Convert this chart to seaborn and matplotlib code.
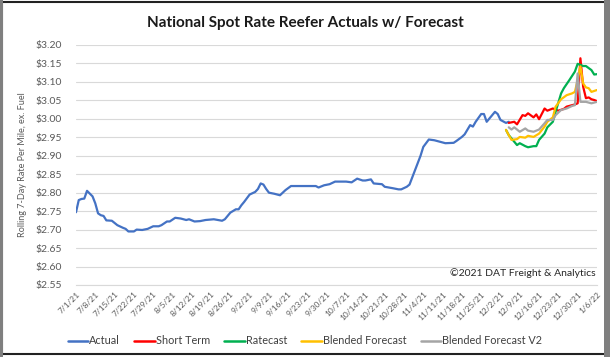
import matplotlib
matplotlib.use('Agg')
import matplotlib.pyplot as plt
import matplotlib.dates as mdates
from matplotlib.patches import Rectangle
from matplotlib.ticker import FuncFormatter
import numpy as np
import pandas as pd
import seaborn as sns

###
# data
actual_dates = ['2021-07-01', '2021-07-02', '2021-07-03', '2021-07-04', '2021-07-05', '2021-07-07',
                '2021-07-08', '2021-07-09', '2021-07-10', '2021-07-11', '2021-07-12', '2021-07-14',
                '2021-07-16', '2021-07-18', '2021-07-19', '2021-07-20', '2021-07-22', '2021-07-23',
                '2021-07-25', '2021-07-27', '2021-07-29', '2021-07-31', '2021-08-01', '2021-08-03',
                '2021-08-04', '2021-08-06', '2021-08-08', '2021-08-10', '2021-08-11', '2021-08-13',
                '2021-08-15', '2021-08-17', '2021-08-20', '2021-08-23', '2021-08-24', '2021-08-26',
                '2021-08-28', '2021-08-29', '2021-08-30', '2021-08-31', '2021-09-02', '2021-09-04',
                '2021-09-05', '2021-09-06', '2021-09-07', '2021-09-08', '2021-09-09', '2021-09-11',
                '2021-09-13', '2021-09-14', '2021-09-15', '2021-09-17', '2021-09-21', '2021-09-26',
                '2021-09-27', '2021-09-29', '2021-10-01', '2021-10-03', '2021-10-07', '2021-10-09',
                '2021-10-11', '2021-10-13', '2021-10-14', '2021-10-16', '2021-10-17', '2021-10-20',
                '2021-10-21', '2021-10-24', '2021-10-26', '2021-10-27', '2021-10-29', '2021-10-30',
                '2021-11-01', '2021-11-03', '2021-11-04', '2021-11-06', '2021-11-08', '2021-11-10',
                '2021-11-12', '2021-11-15', '2021-11-16', '2021-11-18', '2021-11-19', '2021-11-21',
                '2021-11-22', '2021-11-23', '2021-11-25', '2021-11-26', '2021-11-27', '2021-11-28',
                '2021-11-30', '2021-12-01', '2021-12-02', '2021-12-04', '2021-12-05']
actual_vals = [2.747, 2.780, 2.783, 2.784, 2.805, 2.790,
               2.771, 2.744, 2.739, 2.737, 2.725, 2.724,
               2.712, 2.705, 2.702, 2.695, 2.695, 2.700,
               2.699, 2.702, 2.709, 2.709, 2.712, 2.722,
               2.722, 2.732, 2.730, 2.726, 2.728, 2.722,
               2.723, 2.726, 2.728, 2.724, 2.728, 2.746,
               2.755, 2.755, 2.766, 2.775, 2.795, 2.802,
               2.810, 2.825, 2.822, 2.810, 2.800, 2.797,
               2.793, 2.800, 2.807, 2.818, 2.818, 2.818,
               2.814, 2.820, 2.823, 2.830, 2.830, 2.828,
               2.838, 2.833, 2.833, 2.836, 2.825, 2.823,
               2.816, 2.812, 2.809, 2.809, 2.816, 2.822,
               2.861, 2.900, 2.924, 2.944, 2.942, 2.938,
               2.934, 2.935, 2.940, 2.951, 2.958, 2.983,
               2.979, 2.992, 3.013, 3.013, 2.992, 3.001,
               3.019, 3.013, 2.997, 2.989, 2.992]

short_dates = ['2021-12-05', '2021-12-07', '2021-12-08', '2021-12-10', '2021-12-11', '2021-12-12',
               '2021-12-14', '2021-12-15', '2021-12-16', '2021-12-18', '2021-12-19', '2021-12-21',
               '2021-12-23', '2021-12-25', '2021-12-26', '2021-12-28', '2021-12-29', '2021-12-30',
               '2021-12-31', '2022-01-01', '2022-01-02', '2022-01-03', '2022-01-04', '2022-01-05',
               '2022-01-06']
short_vals = [2.989, 2.992, 2.985, 3.010, 3.008, 3.015,
              3.004, 3.012, 2.999, 3.028, 3.022, 3.028,
              3.022, 3.027, 3.033, 3.037, 3.039, 3.042,
              3.164, 3.087, 3.056, 3.058, 3.053, 3.051,
              3.048]

rate_dates = ['2021-12-04', '2021-12-05', '2021-12-07', '2021-12-08', '2021-12-09', '2021-12-11',
              '2021-12-12', '2021-12-14', '2021-12-15', '2021-12-16', '2021-12-18', '2021-12-19',
              '2021-12-21', '2021-12-22', '2021-12-24', '2021-12-25', '2021-12-27', '2021-12-29',
              '2021-12-30', '2022-01-01', '2022-01-02', '2022-01-04', '2022-01-05', '2022-01-06']
rate_vals = [2.970, 2.956, 2.938, 2.929, 2.934, 2.926,
             2.923, 2.926, 2.926, 2.943, 2.960, 2.977,
             2.992, 3.019, 3.069, 3.083, 3.105, 3.128,
             3.149, 3.143, 3.143, 3.132, 3.120, 3.121]

blend_dates = ['2021-12-04', '2021-12-05', '2021-12-06', '2021-12-08', '2021-12-09', '2021-12-11',
               '2021-12-12', '2021-12-14', '2021-12-16', '2021-12-18', '2021-12-19', '2021-12-21',
               '2021-12-22', '2021-12-24', '2021-12-26', '2021-12-28', '2021-12-29', '2021-12-30',
               '2021-12-31', '2022-01-01', '2022-01-02', '2022-01-03', '2022-01-04', '2022-01-06']
blend_vals = [2.970, 2.956, 2.943, 2.945, 2.951, 2.949,
              2.954, 2.951, 2.960, 2.979, 2.992, 3.004,
              3.033, 3.053, 3.064, 3.069, 3.073, 3.105,
              3.142, 3.096, 3.085, 3.083, 3.073, 3.078]

v2_dates = ['2021-12-05', '2021-12-06', '2021-12-07', '2021-12-09', '2021-12-11', '2021-12-12',
            '2021-12-14', '2021-12-16', '2021-12-18', '2021-12-19', '2021-12-21', '2021-12-22',
            '2021-12-24', '2021-12-26', '2021-12-28', '2021-12-29', '2021-12-30', '2021-12-31',
            '2022-01-02', '2022-01-04', '2022-01-05', '2022-01-06']
v2_vals = [2.977, 2.971, 2.977, 2.965, 2.974, 2.968,
           2.965, 2.971, 2.988, 2.997, 2.997, 3.010,
           3.024, 3.028, 3.035, 3.037, 3.123, 3.046,
           3.046, 3.042, 3.044, 3.046]

series_names = ['Actual', 'Short Term', 'Ratecast', 'Blended Forecast', 'Blended Forecast V2']
series_colors = ['#4472C4', '#FF0000', '#00B050', '#FFC000', '#A5A5A5']
y_ticks = np.arange(2.55, 3.2001, 0.05)
###

frames = []
for name, d, v in zip(series_names,
                      [actual_dates, short_dates, rate_dates, blend_dates, v2_dates],
                      [actual_vals, short_vals, rate_vals, blend_vals, v2_vals]):
    frames.append(pd.DataFrame({'date': pd.to_datetime(d), 'rate': v, 'series': name}))
df = pd.concat(frames, ignore_index=True)

sns.set_style('white')
plt.rcParams['font.family'] = ['Lato', 'DejaVu Sans']

fig = plt.figure(figsize=(6.1, 3.57), dpi=100)
ax = fig.add_axes([0.1246, 0.2017, 0.854, 0.6723])

sns.lineplot(data=df, x='date', y='rate', hue='series', hue_order=series_names,
             palette=series_colors, linewidth=1.6, ax=ax, legend=False)

x0 = pd.Timestamp('2021-07-01')
x1 = pd.Timestamp('2022-01-06')
ax.set_xlim(x0, x1)
ax.set_ylim(2.55, 3.20)
ax.set_yticks(y_ticks)
ax.yaxis.set_major_formatter(FuncFormatter(lambda v, p: '${:.2f}'.format(v)))
ax.set_xticks(pd.date_range(x0, x1, freq='7D'))
ax.xaxis.set_major_formatter(FuncFormatter(
    lambda v, p: '{d.month}/{d.day}/{y}'.format(d=mdates.num2date(v), y=mdates.num2date(v).strftime('%y'))))
ax.grid(axis='y', color='#d9d9d9', linewidth=0.8)
for s in ['top', 'right', 'left']:
    ax.spines[s].set_visible(False)
ax.spines['bottom'].set_color('#d9d9d9')
ax.tick_params(axis='y', labelsize=7.5, colors='#595959', length=0, pad=10)
ax.tick_params(axis='x', labelsize=6, colors='#595959', length=3, color='#d9d9d9',
               rotation=45, pad=1)
for lab in ax.get_xticklabels():
    lab.set_ha('right')
    lab.set_rotation_mode('anchor')
ax.set_xlabel('')
ax.set_ylabel('Rolling 7-Day Rate Per Mile, ex. Fuel', fontsize=6.5, color='#595959', labelpad=6)

fig.text(0.5, 0.935, 'National Spot Rate Reefer Actuals w/ Forecast', ha='center', va='center',
         fontsize=11, fontweight='bold', color='#1a1a1a')
fig.text(0.977, 0.235, '\u00a92021 DAT Freight & Analytics', ha='right', va='center',
         fontsize=7.5, color='#262626')

handles = [plt.Line2D([], [], color=c, linewidth=1.8) for c in series_colors]
fig.legend(handles, series_names, loc='center', bbox_to_anchor=(0.5, 0.045), ncol=5,
           frameon=False, fontsize=7.8, handlelength=1.9, handletextpad=0.1, columnspacing=1.3,
           labelcolor='#404040')

# outer frame of the screenshot
fig.add_artist(Rectangle((0.003, 0.008), 0.99, 0.985, transform=fig.transFigure,
                         fill=False, edgecolor='#222222', linewidth=1.5))
fig.add_artist(Rectangle((0.0, 0.0), 0.005, 1.0, transform=fig.transFigure,
                         color='#7f7f7f', linewidth=0))
fig.add_artist(Rectangle((0.99, 0.0), 0.01, 1.0, transform=fig.transFigure,
                         color='#7f7f7f', linewidth=0))

fig.savefig('out.png', dpi=100)
